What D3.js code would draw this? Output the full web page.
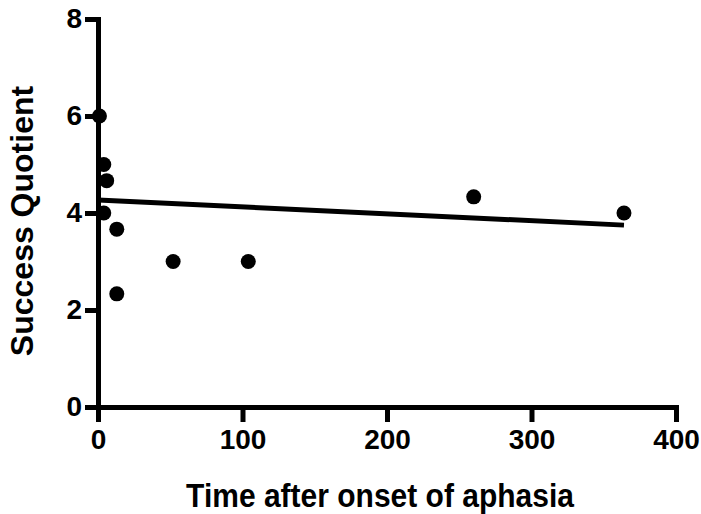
<!DOCTYPE html>
<html>
<head>
<meta charset="utf-8">
<script src="https://cdn.jsdelivr.net/npm/d3@7"></script>
<style>
  body { margin: 0; background: #fff; }
  text { font-family: Arial, "Liberation Sans", Helvetica, sans-serif; font-weight: bold; }
</style>
</head>
<body>
<div id="chart"></div>
<script>
// data
const timeValues = [1, 4, 6, 4, 13, 52, 13, 104, 260, 364];
const quotientValues = [6, 5, 4.667, 4, 3.667, 3, 2.333, 3, 4.333, 4];
const fitLine = [{ x: 0, y: 4.27 }, { x: 364, y: 3.75 }];
const xTicks = [0, 100, 200, 300, 400];
const yTicks = [0, 2, 4, 6, 8];

const W = 701, H = 514;

var x = d3.scaleLinear().domain([0, 400]).range([98, 676]);
var y = d3.scaleLinear().domain([0, 8]).range([407, 19]);

const svg = d3.select("#chart")
    .append("svg")
    .attr("width", W)
    .attr("height", H);

// x axis
const xAxis = svg.append("g")
    .attr("transform", `translate(0,${y(0)})`)
    .call(d3.axisBottom(x).tickValues(xTicks).tickSize(15).tickSizeOuter(0).tickPadding(7));

// y axis
const yAxis = svg.append("g")
    .attr("transform", `translate(${x(0)},0)`)
    .call(d3.axisLeft(y).tickValues(yTicks).tickSize(13).tickSizeOuter(0).tickPadding(3));

[xAxis, yAxis].forEach((g) => {
    g.select(".domain").attr("stroke", "#000").attr("stroke-width", 5).attr("stroke-linecap", "square");
    g.selectAll(".tick line").attr("stroke", "#000").attr("stroke-width", 5);
    g.selectAll(".tick text")
        .attr("fill", "#000")
        .style("font-size", "28px")
        .style("font-weight", "bold");
});

// regression line
svg.append("path")
    .datum(fitLine)
    .attr("d", d3.line().x((d) => x(d.x)).y((d) => y(d.y)))
    .attr("stroke", "#000")
    .attr("stroke-width", 5)
    .attr("fill", "none");

// points
const points = timeValues.map((t, i) => ({ t: t, q: quotientValues[i] }));
svg.append("g")
    .selectAll("circle")
    .data(points)
    .enter()
    .append("circle")
    .attr("cx", (d) => x(d.t))
    .attr("cy", (d) => y(d.q))
    .attr("r", 7.5)
    .attr("fill", "#000");

// axis titles
svg.append("text")
    .text("Time after onset of aphasia")
    .attr("transform", "translate(380,507) scale(1,1.12)")
    .attr("text-anchor", "middle")
    .style("font-size", "30px");

svg.append("text")
    .text("Success Quotient")
    .attr("transform", "translate(33,221) rotate(-90)")
    .attr("text-anchor", "middle")
    .style("font-size", "32px");
</script>
</body>
</html>
